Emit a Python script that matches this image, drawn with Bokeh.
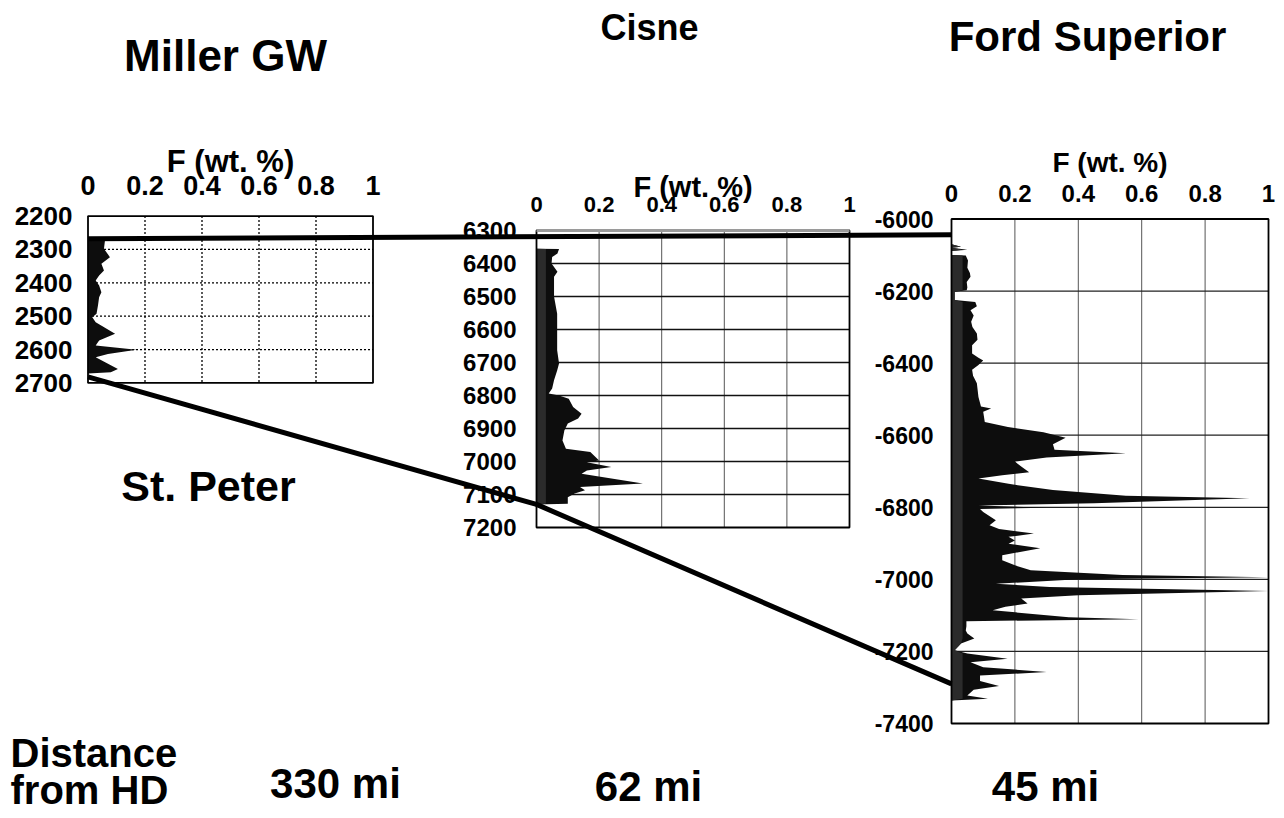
from bokeh.plotting import figure
from bokeh.models import Range1d
from bokeh.embed import file_html
from bokeh.resources import INLINE
from bokeh.core.properties import value

# ---------------- data ----------------
titles = ["Miller GW", "Cisne", "Ford Superior"]
distances = ["330 mi", "62 mi", "45 mi"]
formation = "St. Peter"
distance_label = ["Distance", "from HD"]
axis_title = "F (wt. %)"
f_ticks = [0, 0.2, 0.4, 0.6, 0.8, 1]
f_tick_labels = ["0", "0.2", "0.4", "0.6", "0.8", "1"]

miller_yticks = [2200, 2300, 2400, 2500, 2600, 2700]
cisne_yticks = [6300, 6400, 6500, 6600, 6700, 6800, 6900, 7000, 7100, 7200]
ford_yticks = [-6000, -6200, -6400, -6600, -6800, -7000, -7200, -7400]

miller_depth = [2268, 2270, 2298, 2323, 2343, 2363, 2378, 2393, 2408, 2428, 2443, 2468,
                2493, 2503, 2518, 2553, 2573, 2588, 2601, 2613, 2623, 2658, 2668, 2672]
miller_f = [0.0, 0.06, 0.056, 0.077, 0.047, 0.056, 0.039, 0.027, 0.039, 0.047, 0.039, 0.035,
            0.03, 0.015, 0.027, 0.095, 0.039, 0.027, 0.17, 0.07, 0.027, 0.105, 0.08, 0.0]

cisne_depth = [6355, 6356, 6370, 6380, 6400, 6425, 6440, 6500, 6552, 6602, 6663, 6703, 6724,
               6754, 6779, 6794, 6800, 6810, 6835, 6855, 6870, 6885, 6906, 6936, 6961, 6971,
               6997, 7002, 7017, 7027, 7037, 7067, 7077, 7087, 7097, 7108, 7128, 7130]
cisne_f = [0.0, 0.072, 0.067, 0.05, 0.048, 0.067, 0.056, 0.056, 0.066, 0.066, 0.066, 0.072, 0.066,
           0.056, 0.05, 0.039, 0.072, 0.103, 0.117, 0.144, 0.133, 0.1, 0.089, 0.083, 0.094, 0.172,
           0.2, 0.161, 0.239, 0.161, 0.144, 0.34, 0.139, 0.155, 0.122, 0.1, 0.1, 0.0]

ford_depth = [-6070, -6077, -6080, -6085, -6089, -6100, -6101, -6115, -6135, -6150, -6160, -6175,
              -6190, -6198, -6202, -6225, -6230, -6242, -6253, -6268, -6285, -6300, -6318, -6335,
              -6350, -6373, -6385, -6393, -6405, -6418, -6435, -6456, -6494, -6520, -6526, -6535,
              -6563, -6577, -6592, -6607, -6625, -6640, -6650, -6662, -6673, -6687, -6703, -6711,
              -6720, -6735, -6752, -6768, -6775, -6789, -6795, -6801, -6805, -6813, -6836, -6850,
              -6860, -6873, -6882, -6892, -6901, -6914, -6933, -6947, -6961, -6975, -6988, -6994,
              -7000, -7012, -7021, -7032, -7044, -7053, -7067, -7076, -7086, -7105, -7111, -7116,
              -7130, -7142, -7150, -7164, -7178, -7197, -7206, -7220, -7230, -7244, -7257, -7267,
              -7282, -7296, -7306, -7322, -7331, -7336]
ford_f = [0.0, 0.03, 0.0, 0.05, 0.0, 0.0, 0.045, 0.052, 0.05, 0.058, 0.06, 0.048,
          0.05, 0.048, 0.01, 0.01, 0.075, 0.08, 0.06, 0.07, 0.062, 0.066, 0.08, 0.082,
          0.065, 0.065, 0.085, 0.1, 0.085, 0.065, 0.068, 0.08, 0.085, 0.093, 0.125, 0.1,
          0.105, 0.178, 0.29, 0.36, 0.32, 0.325, 0.55, 0.3, 0.2, 0.22, 0.245, 0.16,
          0.085, 0.18, 0.32, 0.55, 0.94, 0.45, 0.085, 0.3, 0.09, 0.1, 0.14, 0.12,
          0.15, 0.26, 0.18, 0.2, 0.18, 0.28, 0.16, 0.16, 0.2, 0.25, 0.54, 1.0,
          0.4, 0.14, 0.31, 1.0, 0.4, 0.22, 0.24, 0.17, 0.13, 0.37, 0.59, 0.047,
          0.047, 0.045, 0.05, 0.072, 0.03, 0.01, 0.05, 0.177, 0.06, 0.1, 0.3, 0.09,
          0.09, 0.15, 0.07, 0.05, 0.115, 0.0]

# depth of top and base of the St. Peter in each well
top_horizon = [2268, 6315, -6044]
base_horizon = [2682, 7130, -7290]

# ---------------- geometry ----------------
W, H = 1276, 810
FONT = value("Liberation Sans")

geo = {
    "m": dict(f0=87.5, f1=372.5, d0=2200, p0=215.6, d1=2700, p1=382.4),
    "c": dict(f0=536.0, f1=849.0, d0=6300, p0=230.0, d1=7200, p1=527.0),
    "f": dict(f0=951.0, f1=1268.0, d0=-6000, p0=218.5, d1=-7400, p1=723.0),
}
# width of the dark-grey stippled band next to the axis (in F units), per panel
band = {"m": 0.0, "c": 0.03, "f": 0.035}


def fx(g, f):
    return g["f0"] + f * (g["f1"] - g["f0"])


def fy(g, d):
    return g["p0"] + (d - g["d0"]) * (g["p1"] - g["p0"]) / (g["d1"] - g["d0"])


def xrange_for(g):
    k = 1.0 / (g["f1"] - g["f0"])
    return Range1d(start=-g["f0"] * k, end=(W - g["f0"]) * k)


def yrange_for(g):
    k = (g["d1"] - g["d0"]) / (g["p1"] - g["p0"])
    return Range1d(start=g["d0"] + (H - g["p0"]) * k, end=g["d0"] - g["p0"] * k)


p = figure(width=W, height=H, x_range=Range1d(0, W), y_range=Range1d(H, 0),
           toolbar_location=None, output_backend="svg", min_border=0,
           x_axis_location=None, y_axis_location=None)
p.grid.visible = False
p.outline_line_color = None
p.background_fill_color = "white"

for key, g in geo.items():
    p.extra_x_ranges[key + "x"] = xrange_for(g)
    p.extra_y_ranges[key + "y"] = yrange_for(g)

panel_data = {
    "m": (miller_depth, miller_f, miller_yticks),
    "c": (cisne_depth, cisne_f, cisne_yticks),
    "f": (ford_depth, ford_f, ford_yticks),
}

grid_style = {
    "m": dict(line_color="black", line_width=1.3, line_dash="2 2"),
    "c": dict(line_color="#555555", line_width=1.0),
    "f": dict(line_color="#555555", line_width=1.0),
}
hgrid_style = {
    "m": dict(line_color="black", line_width=1.3, line_dash="2 2"),
    "c": dict(line_color="#111111", line_width=1.3),
    "f": dict(line_color="#222222", line_width=1.2),
}

for key, g in geo.items():
    depth, fvals, yticks = panel_data[key]
    xr, yr = key + "x", key + "y"
    inner_x = [t for t in f_ticks if 0 < t < 1]
    inner_y = yticks[1:-1]
    p.segment(x0=inner_x, y0=[g["d0"]] * len(inner_x), x1=inner_x, y1=[g["d1"]] * len(inner_x),
              x_range_name=xr, y_range_name=yr, **grid_style[key])
    p.segment(x0=[0] * len(inner_y), y0=inner_y, x1=[1] * len(inner_y), y1=inner_y,
              x_range_name=xr, y_range_name=yr, **hgrid_style[key])
    p.harea(x1=[0] * len(depth), x2=fvals, y=depth, fill_color="#0d0d0d",
            x_range_name=xr, y_range_name=yr)
    if band[key] > 0:
        p.harea(x1=[0] * len(depth), x2=[min(v, band[key]) for v in fvals], y=depth,
                fill_color="#2b2b2b", x_range_name=xr, y_range_name=yr)
    p.quad(left=[0], right=[1], top=[g["d0"]], bottom=[g["d1"]], fill_color=None,
           line_color="black", line_width=1.8, x_range_name=xr, y_range_name=yr)

# gray double top edge of Cisne frame
p.segment(x0=[0], y0=[geo["c"]["d0"]], x1=[1], y1=[geo["c"]["d0"]], line_color="#9a9a9a",
          line_width=3, x_range_name="cx", y_range_name="cy")

# ---- tick labels & axis titles ----
lab = {
    "m": dict(tsize="27px", ysize="26px", asize="31px", tick_dy=-30.6, title_dy=-55, ylab_dx=-15.5),
    "c": dict(tsize="22px", ysize="24px", asize="29px", tick_dy=-26, title_dy=-44, ylab_dx=-20),
    "f": dict(tsize="24px", ysize="23px", asize="28px", tick_dy=-25.5, title_dy=-56.5, ylab_dx=-18),
}
for key, g in geo.items():
    depth, fvals, yticks = panel_data[key]
    L = lab[key]
    p.text(x=[fx(g, t) for t in f_ticks], y=[g["p0"] + L["tick_dy"]] * len(f_ticks),
           text=f_tick_labels, text_font=FONT, text_font_style="bold",
           text_font_size=L["tsize"], text_align="center", text_baseline="middle",
           text_color="black")
    p.text(x=[fx(g, 0.5)], y=[g["p0"] + L["title_dy"]], text=[axis_title], text_font=FONT,
           text_font_style="bold", text_font_size=L["asize"], text_align="center",
           text_baseline="middle", text_color="black")
    p.text(x=[g["f0"] + L["ylab_dx"]] * len(yticks), y=[fy(g, d) for d in yticks],
           text=[str(t) for t in yticks], text_font=FONT, text_font_style="bold",
           text_font_size=L["ysize"], text_align="right", text_baseline="middle",
           text_color="black")

# ---- correlation lines ----
keys = ["m", "c", "f"]
p.line(x=[fx(geo["m"], 0), fx(geo["f"], 0)],
       y=[fy(geo["m"], top_horizon[0]), fy(geo["f"], top_horizon[2])],
       line_color="black", line_width=5)
p.line(x=[fx(geo[k], 0) for k in keys], y=[fy(geo[k], d) for k, d in zip(keys, base_horizon)],
       line_color="black", line_width=5, line_join="round")

# ---- big labels ----
title_x = [225, 649, 1087]
title_y = [55, 27, 36]
title_sizes = ["44px", "36px", "42px"]
for t, x, y, s in zip(titles, title_x, title_y, title_sizes):
    p.text(x=[x], y=[y], text=[t], text_font=FONT, text_font_style="bold",
           text_font_size=s, text_align="center", text_baseline="middle", text_color="black")
p.text(x=[208], y=[485], text=[formation], text_font=FONT, text_font_style="bold",
       text_font_size="43px", text_align="center", text_baseline="middle", text_color="black")
p.text(x=[10, 10], y=[752, 789], text=distance_label, text_font=FONT, text_font_style="bold",
       text_font_size="40px", text_align="left", text_baseline="middle", text_color="black")
p.text(x=[335, 648, 1045], y=[783, 786, 786], text=distances, text_font=FONT,
       text_font_style="bold", text_font_size="42px", text_align="center",
       text_baseline="middle", text_color="black")

open("out.html", "w").write(file_html(p, INLINE))
